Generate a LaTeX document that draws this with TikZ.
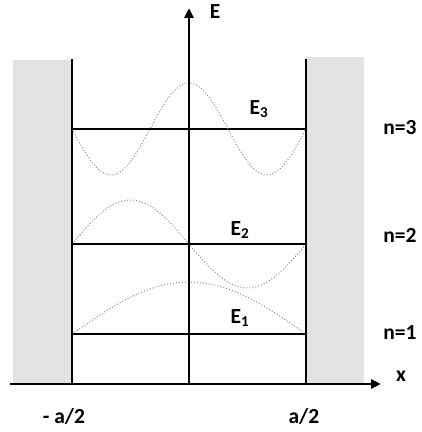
\documentclass[tikz,border=0pt]{standalone}
\usepackage{fontspec}
\setmainfont{Carlito}
\usepackage{tikz}
\usetikzlibrary{arrows.meta}

\begin{document}
\begin{tikzpicture}[
    x=1pt,y=1pt,
    axis/.style={line width=2.6pt,-{Triangle[length=10pt,width=9pt]}},
    wall/.style={line width=2.8pt},
    level/.style={line width=2.8pt},
    wave/.style={line width=1pt,dotted,color=wavecol},
    barrier/.style={fill=black!11,draw=none},
    every node/.style={font=\fontsize{21.5}{24}\selectfont\bfseries}
]
    \definecolor{wavecol}{RGB}{105,145,195}
    \useasboundingbox (0,0) rectangle (422,432);

    % Barriers on both sides of the well.
    \fill[barrier] (13,48) rectangle (72,372);
    \fill[barrier] (306,48) rectangle (364,375);

    % Energy levels across the well.
    \coordinate (l3) at (72,303);  \coordinate (r3) at (306,303);
    \coordinate (l2) at (72,188);  \coordinate (r2) at (306,188);
    \coordinate (l1) at (72,98);   \coordinate (r1) at (306,98);
    \draw[level] (l3) -- (r3);
    \draw[level] (l2) -- (r2);
    \draw[level] (l1) -- (r1);

    % Wave functions drawn on top of each level.
    \draw[wave,domain=0:1,samples=60,variable=\u]
        plot ({72+234*\u},{98+52*sin(180*\u)});
    \draw[wave,domain=0:1,samples=80,variable=\u]
        plot ({72+234*\u},{188+44*sin(360*\u)});
    \draw[wave,domain=0:1,samples=100,variable=\u]
        plot ({72+234*\u},{303-46*sin(540*\u)});

    % Walls and axes.
    \coordinate (wl) at (72,48);   \coordinate (wlt) at (72,373);
    \coordinate (wr) at (306,48);  \coordinate (wrt) at (306,373);
    \draw[wall] (wl) -- (wlt);
    \draw[wall] (wr) -- (wrt);
    \coordinate (xo) at (10,48);   \coordinate (xe) at (381,48);
    \coordinate (eo) at (189,48);  \coordinate (ee) at (189,424);
    \draw[axis] (xo) -- (xe);
    \draw[axis] (eo) -- (ee);

    % Labels.
    \node (Elab) at (215,420) {E};
    \node (xlab) at (401,56) {x};
    \node (E3) at (259,323) {E\textsubscript{3}};
    \node (E2) at (240,202) {E\textsubscript{2}};
    \node (E1) at (240,114) {E\textsubscript{1}};
    \node (n3) at (400,304) {n=3};
    \node (n2) at (400,197) {n=2};
    \node (n1) at (400,99) {n=1};
    \node (ml) at (64,16) {- a/2};
    \node (pl) at (304,16) {a/2};
\end{tikzpicture}
\end{document}
